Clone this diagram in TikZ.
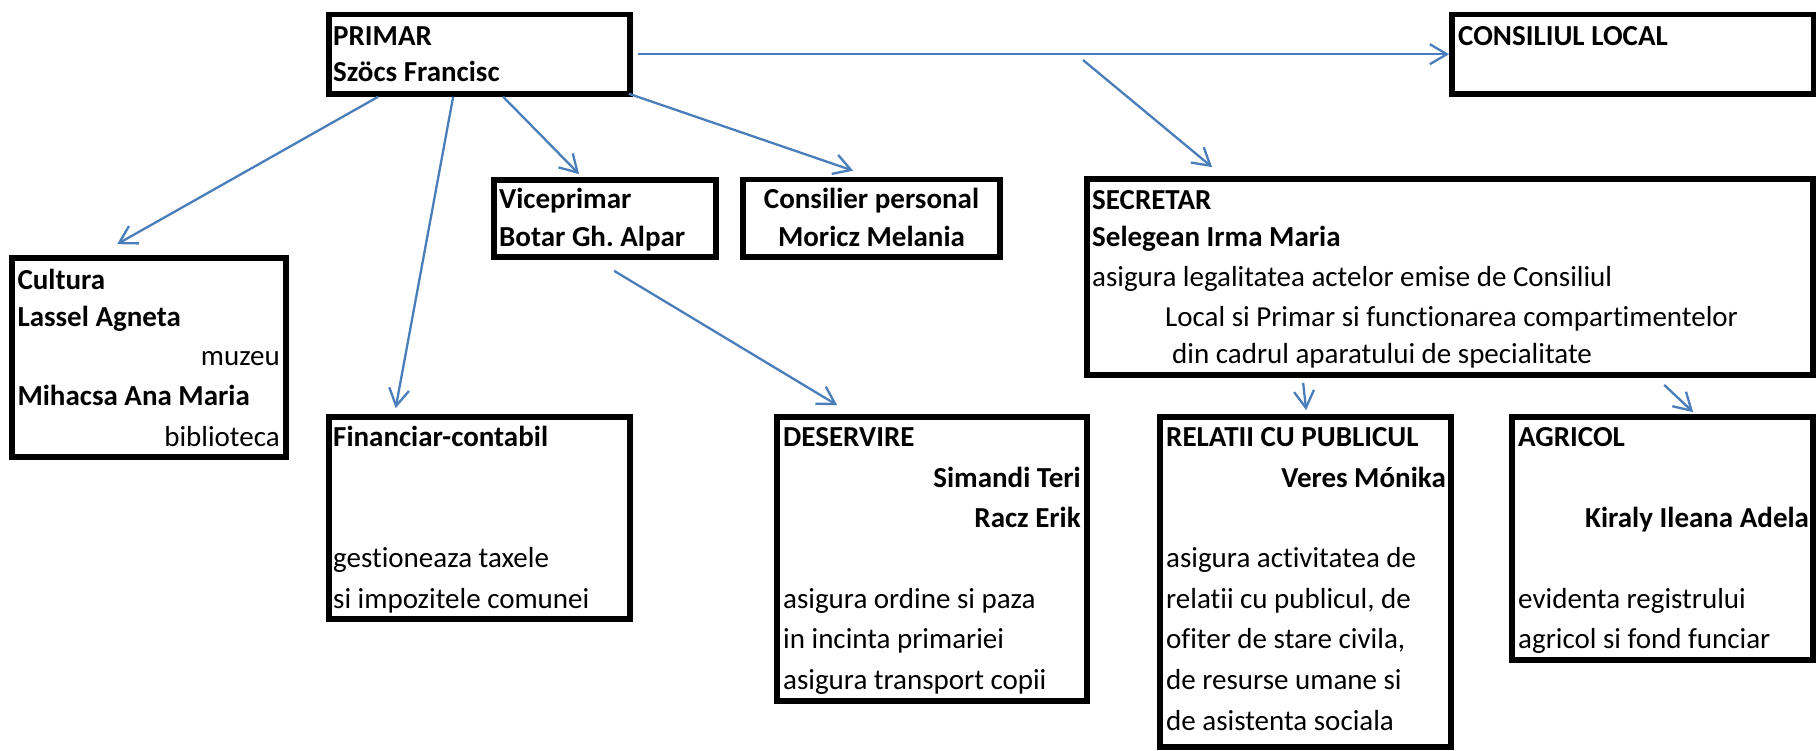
\documentclass[tikz,border=0pt]{standalone}
\usepackage{fontspec}
\setmainfont{Carlito}[Ligatures=NoCommon]
\usetikzlibrary{calc}
\usetikzlibrary{arrows.meta}
\definecolor{linkblue}{RGB}{74,126,187}
\newcommand{\boxfont}{\fontsize{29}{35}\selectfont}
\frenchspacing
\tikzset{
  unit/.style={draw, line width=5.7pt, inner sep=0pt},
  link/.style={draw=linkblue, line width=2.3pt, -{Straight Barb[length=17pt,width=20pt]}},
  lbl/.style={inner sep=0pt, anchor=base west, font=\boxfont},
  lblr/.style={inner sep=0pt, anchor=base east, font=\boxfont},
  lblc/.style={inner sep=0pt, anchor=base, font=\boxfont},
  hd/.style={font=\boxfont\bfseries},
}

\begin{document}
\begin{tikzpicture}[x=1pt, y=-1pt]
  \useasboundingbox (0,0) rectangle (1816,750);

  % boxes
  \node[unit, minimum width=301pt, minimum height=79.4pt] (primar) at (479.5,54.2) {};
  \node[unit, minimum width=361.5pt, minimum height=79.4pt] (consiliu) at (1632.7,54.2) {};
  \node[unit, minimum width=222pt, minimum height=77pt] (vice) at (605,218.5) {};
  \node[unit, minimum width=257pt, minimum height=77.5pt] (consilier) at (871.5,218.3) {};
  \node[unit, minimum width=726pt, minimum height=196pt] (secretar) at (1450,277) {};
  \node[unit, minimum width=274pt, minimum height=199pt] (cultura) at (149,357.5) {};
  \node[unit, minimum width=301pt, minimum height=202pt] (financiar) at (479.5,518) {};
  \node[unit, minimum width=310pt, minimum height=284pt] (deservire) at (932,559) {};
  \node[unit, minimum width=291pt, minimum height=330pt] (relatii) at (1305.5,582) {};
  \node[unit, minimum width=301pt, minimum height=243pt] (agricol) at (1662.5,538.5) {};

  % texts
  \node[lbl, hd] (primarA) at (333,45) {PRIMAR};
  \node[lbl, hd] (primarB) at (333,81.7) {Szöcs Francisc};
  \node[lbl, hd] (consiliuA) at (1458,45) {CONSILIUL LOCAL};
  \node[lbl, hd] (viceA) at (499,208.3) {Viceprimar};
  \node[lbl, hd] (viceB) at (499,246) {Botar Gh. Alpar};
  \node[lblc, hd] (consilierA) at (871.5,208.3) {Consilier personal};
  \node[lblc, hd] (consilierB) at (871.5,246) {Moricz Melania};

  \node[lbl, hd] (secretarA) at (1092,209.3) {SECRETAR};
  \node[lbl, hd] (secretarB) at (1092,246.7) {Selegean Irma Maria};
  \node[lbl] (secretarC) at (1092,286.7) {asigura legalitatea actelor emise de Consiliul};
  \node[lbl] (secretarD) at (1165,326) {Local si Primar si functionarea compartimentelor};
  \node[lbl] (secretarE) at (1172,363) {din cadrul aparatului de specialitate};

  \node[lbl, hd] (culturaA) at (17.3,289.3) {Cultura};
  \node[lbl, hd] (culturaB) at (17.3,326.7) {Lassel Agneta};
  \node[lblr] (culturaC) at (280,365) {muzeu};
  \node[lbl, hd] (culturaD) at (17.3,405) {Mihacsa Ana Maria};
  \node[lblr] (culturaE) at (280,446) {biblioteca};

  \node[lbl, hd] (financiarA) at (333,446.7) {Financiar-contabil};
  \node[lbl] (financiarB) at (333,567) {gestioneaza taxele};
  \node[lbl] (financiarC) at (333,608) {si impozitele comunei};

  \node[lbl, hd] (deservireA) at (783,446.7) {DESERVIRE};
  \node[lblr, hd] (deservireB) at (1081,487) {Simandi Teri};
  \node[lblr, hd] (deservireC) at (1081,527) {Racz Erik};
  \node[lbl] (deservireD) at (783,608) {asigura ordine si paza};
  \node[lbl] (deservireE) at (783,648) {in incinta primariei};
  \node[lbl] (deservireF) at (783,689) {asigura transport copii};

  \node[lbl, hd] (relatiiA) at (1166,446.7) {RELATII CU PUBLICUL};
  \node[lblr, hd] (relatiiB) at (1446,487) {Veres Mónika};
  \node[lbl] (relatiiC) at (1166,567) {asigura activitatea de};
  \node[lbl] (relatiiD) at (1166,608) {relatii cu publicul, de};
  \node[lbl] (relatiiE) at (1166,648) {ofiter de stare civila,};
  \node[lbl] (relatiiF) at (1166,689) {de resurse umane si};
  \node[lbl] (relatiiG) at (1166,730) {de asistenta sociala};

  \node[lbl, hd] (agricolA) at (1518,446.7) {AGRICOL};
  \node[lbl, hd] (agricolB) at (1585,527) {Kiraly Ileana Adela};
  \node[lbl] (agricolC) at (1518,608) {evidenta registrului};
  \node[lbl] (agricolD) at (1518,648) {agricol si fond funciar};

  % arrows
  \coordinate (split) at (1083,60);
  \draw[link] ([xshift=5pt]primar.east) -- (consiliu.west);
  \draw[link] (split) -- ($(secretar.north west)+(128,-9)$);
  \draw[link] ($(primar.south west)+(52,0)$) -- ($(cultura.north west)+(108,-11)$);
  \draw[link] ($(primar.south west)+(127,0)$) -- ($(financiar.north west)+(69.5,-6)$);
  \draw[link] ($(primar.south west)+(177,0)$) -- ($(vice.north west)+(88,-3)$);
  \draw[link] ($(primar.south east)+(-4,-3)$) -- ($(consilier.north west)+(113,-6)$);
  \draw[link] ($(vice.south west)+(123,11)$) -- ($(deservire.north west)+(63,-9)$);
  \draw[link] ($(secretar.south west)+(219,5)$) -- ($(relatii.north west)+(149,-4)$);
  \draw[link] ($(secretar.south west)+(580,7)$) -- ($(agricol.north west)+(184,-2)$);
\end{tikzpicture}
\end{document}
